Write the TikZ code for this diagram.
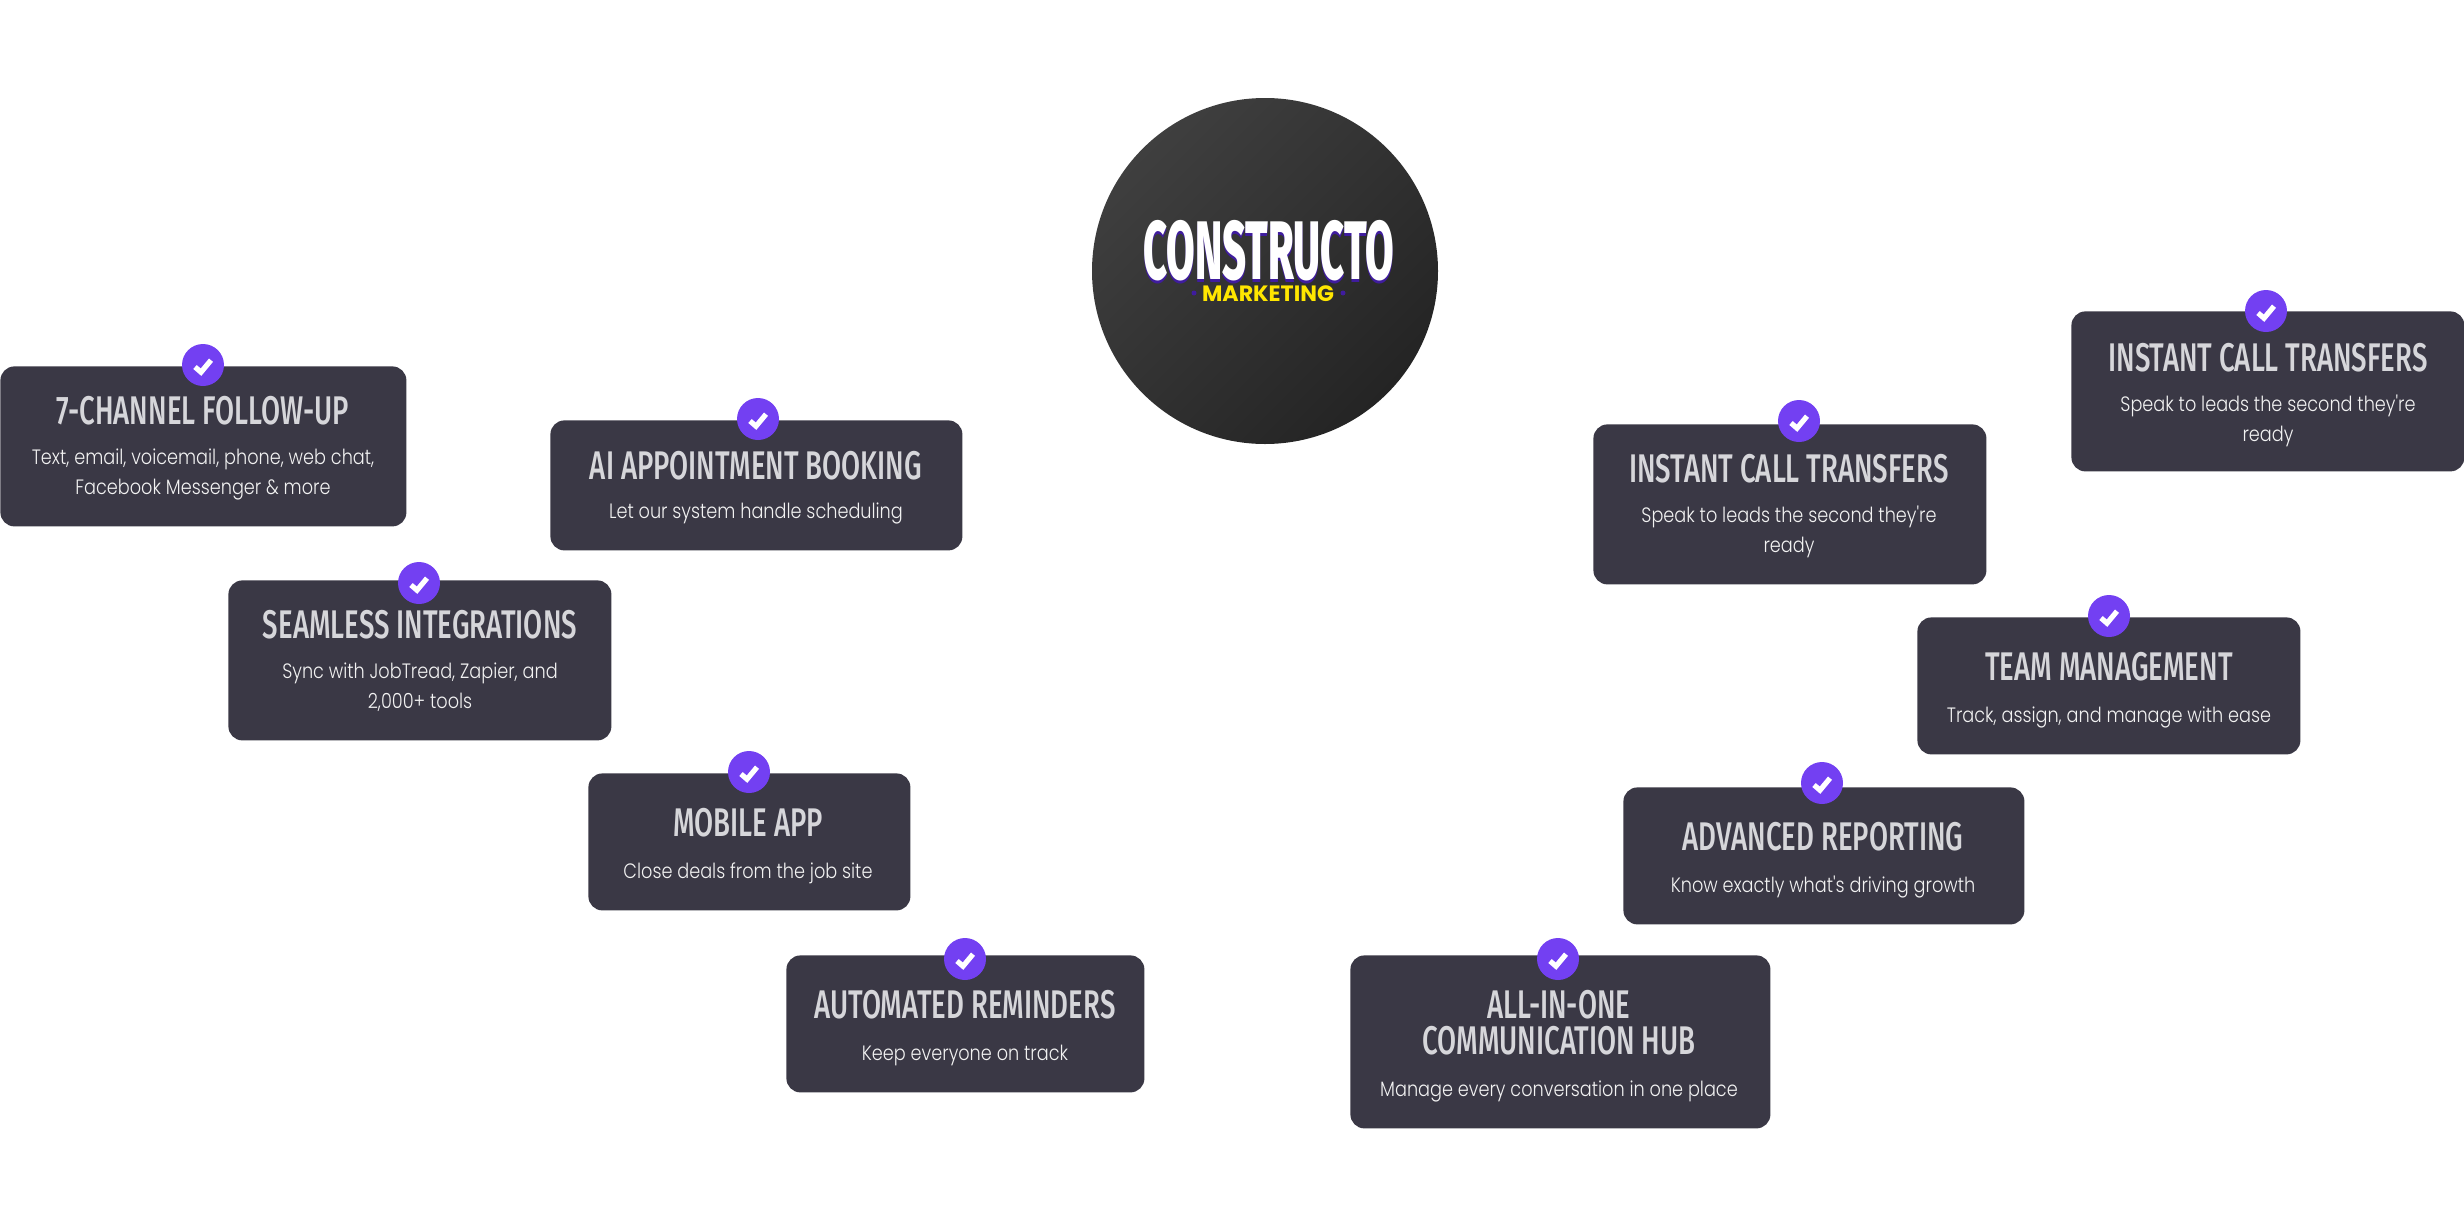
\documentclass[tikz,border=0pt]{standalone}
\usepackage{fontspec}
\setmainfont{Lato}
\newfontfamily\titlefont[FakeStretch=0.69]{Fira Sans Medium}
\newfontfamily\bodyfont{Poppins Light}[FakeStretch=0.85]
\newfontfamily\logofont[FakeStretch=0.5]{Fira Sans ExtraBold}
\newfontfamily\markfont{Poppins Bold}
\definecolor{cardbg}{HTML}{3A3845}
\definecolor{titlecol}{HTML}{D6D6DA}
\definecolor{bodycol}{HTML}{F2F2F2}
\definecolor{badgecol}{HTML}{7340F2}
\definecolor{logoshadow}{HTML}{3F1C9E}
\definecolor{logoyellow}{HTML}{FFE600}
\definecolor{logolight}{HTML}{3F3F3F}
\definecolor{logodark}{HTML}{242424}
\tikzset{
  x=0.5pt,y=-0.5pt,
  card/.style={rectangle,rounded corners=7pt,fill=cardbg,inner sep=0pt,anchor=north west},
  badge/.style={circle,fill=badgecol,minimum size=21pt,inner sep=0pt},
  tick/.style={draw=white,line width=2.6pt,line cap=butt,line join=miter},
  cardtitle/.style={text=titlecol,anchor=base,inner sep=0pt,align=center,font=\titlefont\fontsize{20}{18}\selectfont},
  cardbody/.style={text=bodycol,anchor=base,inner sep=0pt,align=center,font=\bodyfont\fontsize{10.4}{15.2}\selectfont},
  logotext/.style={anchor=base,inner sep=0pt,font=\logofont\fontsize{41.5}{42}\selectfont},
}
\newcommand{\checkbadge}[3]{%
  \node[badge] (#1) at (#2,#3) {};
  \draw[tick] ([xshift=-4pt,yshift=-1pt]#1.center) -- ([xshift=-1pt,yshift=-3.6pt]#1.center) -- ([xshift=4pt,yshift=2.4pt]#1.center);
}
\begin{document}
\begin{tikzpicture}
\useasboundingbox (0,0) rectangle (2464,1232);
% logo
\node[circle,minimum size=173pt,inner sep=0pt,shading=axis,left color=logolight,right color=logodark,shading angle=45] (logo) at (1265,271) {};
\node[logotext,text=logoshadow] (logoshade) at (1268.5,282) {CONSTRUCTO};
\node[logotext,text=white] (logoword) at (1268.5,279) {CONSTRUCTO};
\node[anchor=base,inner sep=0pt,text=logoyellow,font=\markfont\fontsize{11.1}{11}\selectfont] (logomark) at (1268,301.5) {MARKETING};
\fill[logoshadow] (1194,293) circle (2.5);
\fill[logoshadow] (1343,293) circle (2.5);
% cards
\node[card,minimum width=203pt,minimum height=80pt] (c1) at (0,366) {};
\checkbadge{b1}{203}{365}
\node[cardtitle] (t1) at (203,424) {7-CHANNEL FOLLOW-UP};
\node[cardbody] (d1) at (203,494.5) {Text, email, voicemail, phone, web chat,\\Facebook Messenger \& more};

\node[card,minimum width=206pt,minimum height=65pt] (c2) at (550,420) {};
\checkbadge{b2}{758}{419}
\node[cardtitle] (t2) at (756,479) {AI APPOINTMENT BOOKING};
\node[cardbody] (d2) at (756,518.5) {Let our system handle scheduling};

\node[card,minimum width=191.5pt,minimum height=80pt] (c3) at (228,580) {};
\checkbadge{b3}{419}{583}
\node[cardtitle] (t3) at (420,638) {SEAMLESS INTEGRATIONS};
\node[cardbody] (d3) at (420,708.5) {Sync with JobTread, Zapier, and\\2,000+ tools};

\node[card,minimum width=161pt,minimum height=68.5pt] (c4) at (588,773) {};
\checkbadge{b4}{749}{772}
\node[cardtitle] (t4) at (748,836) {MOBILE APP};
\node[cardbody] (d4) at (748,878) {Close deals from the job site};

\node[card,minimum width=179pt,minimum height=68.5pt] (c5) at (786,955) {};
\checkbadge{b5}{965}{959}
\node[cardtitle] (t5) at (965,1018) {AUTOMATED REMINDERS};
\node[cardbody] (d5) at (965,1060.5) {Keep everyone on track};

\node[card,minimum width=210pt,minimum height=86.5pt] (c6) at (1350,955) {};
\checkbadge{b6}{1558}{959}
\node[cardtitle] (t6) at (1559,1054) {ALL-IN-ONE\\COMMUNICATION HUB};
\node[cardbody] (d6) at (1559,1096.5) {Manage every conversation in one place};

\node[card,minimum width=200.5pt,minimum height=68.5pt] (c7) at (1623,787) {};
\checkbadge{b7}{1822}{783}
\node[cardtitle] (t7) at (1823,850) {ADVANCED REPORTING};
\node[cardbody] (d7) at (1823,892.5) {Know exactly what's driving growth};

\node[card,minimum width=191.5pt,minimum height=68.5pt] (c8) at (1917,617) {};
\checkbadge{b8}{2109}{616}
\node[cardtitle] (t8) at (2109,680) {TEAM MANAGEMENT};
\node[cardbody] (d8) at (2109,722.5) {Track, assign, and manage with ease};

\node[card,minimum width=196.5pt,minimum height=80pt] (c9) at (1593,424) {};
\checkbadge{b9}{1799}{421}
\node[cardtitle] (t9) at (1789,482) {INSTANT CALL TRANSFERS};
\node[cardbody] (d9) at (1789,552.5) {Speak to leads the second they're\\ready};

\node[card,minimum width=196.5pt,minimum height=80pt] (c10) at (2071,311) {};
\checkbadge{b10}{2266}{311}
\node[cardtitle] (t10) at (2268,371) {INSTANT CALL TRANSFERS};
\node[cardbody] (d10) at (2268,441.5) {Speak to leads the second they're\\ready};
\end{tikzpicture}
\end{document}
